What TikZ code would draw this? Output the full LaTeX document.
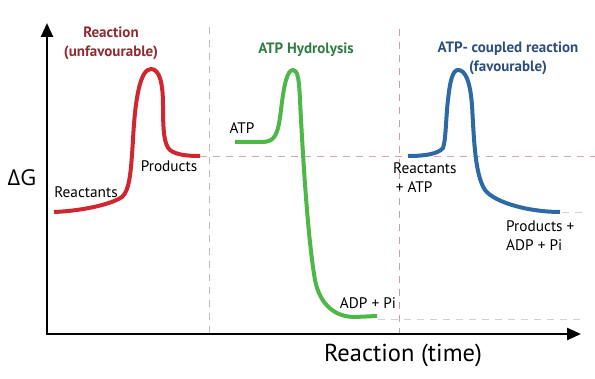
\documentclass[tikz,border=0pt]{standalone}
\usepackage{fontspec}
\setmainfont{PT Sans}
\newfontfamily\greekfont{Open Sans}
\usetikzlibrary{arrows.meta}
\definecolor{cred}{HTML}{D12630}
\definecolor{cgreen}{HTML}{4DB848}
\definecolor{cblue}{HTML}{2C69A5}
\definecolor{tred}{HTML}{8E2B33}
\definecolor{tgreen}{HTML}{2F7D44}
\definecolor{tblue}{HTML}{2C4F7E}
\definecolor{dgray}{HTML}{BDBDBD}
\definecolor{dpink}{HTML}{D9A7AE}
\definecolor{dlight}{HTML}{CDD3D8}
\tikzset{
  axisline/.style={line width=2.4pt,-{Triangle[length=14pt,width=12pt]}},
  curveline/.style={line width=4pt,line cap=butt},
  guide/.style={line width=0.9pt,dash pattern=on 7pt off 6pt},
  lbl/.style={font=\fontsize{15.3}{19}\selectfont,inner sep=0pt},
  ttl/.style={font=\bfseries\fontsize{15}{19}\selectfont,inner sep=0pt,align=center}
}
\begin{document}
\begin{tikzpicture}[x=1pt,y=-1pt]
\useasboundingbox (0,0) rectangle (595,379);
% guides
\coordinate (v1t) at (209,27); \coordinate (v1b) at (209,334);
\coordinate (v2t) at (399,29); \coordinate (v2b) at (399,334);
\coordinate (h1l) at (200,156); \coordinate (h1r) at (595,156);
\coordinate (h2l) at (378,319); \coordinate (h2r) at (585,319);
\coordinate (h3l) at (562,212); \coordinate (h3r) at (585,212);
\draw[guide,dgray] (v1t) -- (v1b);
\draw[guide,dpink!80!gray] (v2t) -- (v2b);
\draw[guide,dpink] (h1l) -- (h1r);
\draw[guide,dlight] (h2l) -- (h2r);
\draw[guide,dlight] (h3l) -- (h3r);
% axes
\coordinate (O) at (47,334);
\coordinate (ytip) at (47,23);
\coordinate (xtip) at (581,334);
\draw[axisline] ([yshift=1.2pt]O) -- (ytip);
\draw[axisline] ([xshift=-1.2pt]O) -- (xtip);
% red curve
\draw[curveline,cred] (54,212) .. controls (80,211) and (110,205) .. (122,197)
  .. controls (130,190) and (131,170) .. (133,140)
  .. controls (135,100) and (140,69) .. (151,69)
  .. controls (160,69) and (163,85) .. (163,105)
  .. controls (163,130) and (164,145) .. (170,150)
  .. controls (176,155) and (188,156) .. (200,156);
% green curve
\draw[curveline,cgreen] (235,142) -- (262,142)
  .. controls (275,142) and (278,135) .. (281,110)
  .. controls (284,85) and (287,70) .. (293,70)
  .. controls (298,70) and (299,80) .. (300,100)
  .. controls (303,160) and (308,240) .. (315,280)
  .. controls (320,305) and (335,317) .. (355,317) -- (377,316);
% blue curve
\draw[curveline,cblue] (408,156) .. controls (425,156) and (438,154) .. (443,148)
  .. controls (446,140) and (446,115) .. (448,100)
  .. controls (450,80) and (453,70) .. (458,70)
  .. controls (465,70) and (470,80) .. (472,105)
  .. controls (474,140) and (475,175) .. (485,190)
  .. controls (495,203) and (530,212) .. (560,212);
% titles
\node[ttl,tred] (t1) at (111,43) {Reaction\\(unfavourable)};
\node[ttl,tgreen] (t2) at (306,50) {ATP Hydrolysis};
\node[ttl,tblue] (t3) at (508,58) {ATP- coupled reaction\\(favourable)};
% labels
\node[lbl] (dg) at (22,178) {\greekfont\fontsize{22}{24}\selectfont ΔG};
\node[lbl] (reac) at (86,192) {Reactants};
\node[lbl] (prod) at (169,166) {Products};
\node[lbl] (atp) at (242,128) {ATP};
\node[lbl] (adp) at (368,303) {ADP + Pi};
\node[lbl,anchor=west,align=left] (reac2) at (393,178) {Reactants\\\,+ ATP};
\node[lbl,anchor=west,align=left] (prod2) at (506,236) {Products +\\ADP + Pi};
\node[lbl,font=\fontsize{24.5}{28}\selectfont] (xl) at (403,355) {Reaction (time)};
\end{tikzpicture}
\end{document}
